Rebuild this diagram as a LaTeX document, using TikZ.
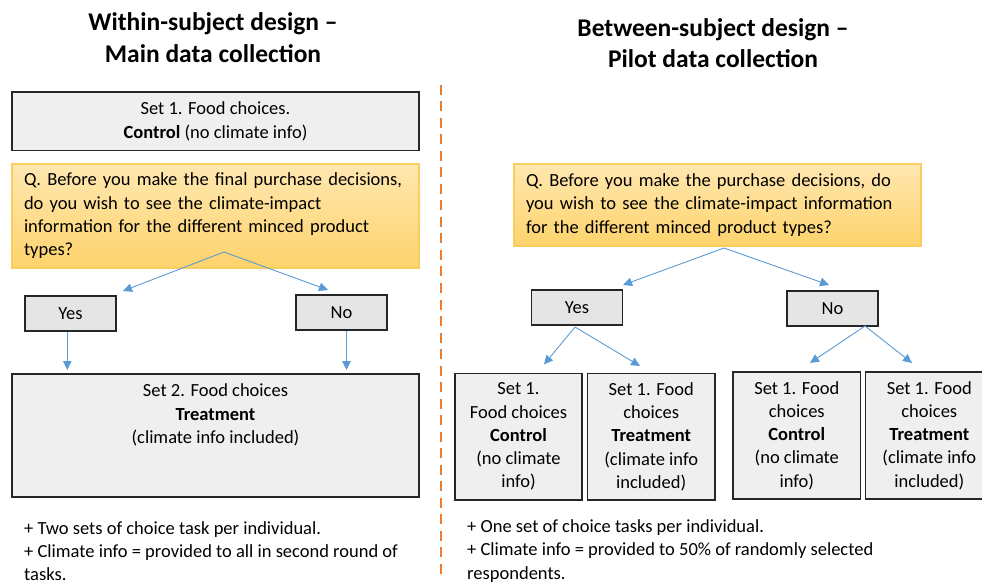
\documentclass[tikz,border=0pt]{standalone}
\usepackage{fontspec}
\setmainfont{Carlito}
\usetikzlibrary{arrows.meta}

\definecolor{boxgray}{HTML}{EFEFEF}
\definecolor{btngray}{HTML}{E5E5E5}
\definecolor{edge}{HTML}{262626}
\definecolor{qtop}{HTML}{FFE7B0}
\definecolor{qbot}{HTML}{FDD36C}
\definecolor{qedge}{HTML}{F9CD5E}
\definecolor{flow}{HTML}{5B9BD5}
\definecolor{divider}{HTML}{ED7D31}

\begin{document}
\begin{tikzpicture}[x=1pt, y=-1pt,
  txt/.style={font=\fontsize{18.5}{23.3}\selectfont},
  head/.style={font=\fontsize{25.5}{31.6}\selectfont\bfseries, align=center, inner sep=0},
  grayrect/.style={draw=edge, line width=1.6pt, fill=boxgray, inner sep=0, align=center, txt},
  btn/.style={draw=edge, line width=1.6pt, fill=btngray, inner sep=0, txt,
    minimum width=91, minimum height=35.5},
  qbox/.style={draw=qedge, line width=1.2pt, top color=qtop, bottom color=qbot,
    inner xsep=12, inner ysep=0, align=left, txt},
  cell/.style={grayrect, minimum width=127.5, minimum height=126.5},
  note/.style={align=left, inner sep=0, anchor=west, txt},
  flowarrow/.style={draw=flow, line width=0.9pt, -{Triangle[length=9pt, width=8.5pt]}},
]
\useasboundingbox (0,0) rectangle (982,585);
\clip (0,0) rectangle (982,585);

% column headings
\node[head] (headL) at (213,37.5) {Within-subject design –\\Main data collection};
\node[head] (headR) at (713,43) {Between-subject design –\\Pilot data collection};

% separator between the two designs
\coordinate (sepTop) at (440.5,85);
\coordinate (sepBot) at (440.5,580);
\draw[divider, line width=2pt, dash pattern=on 10pt off 6.5pt] (sepTop) -- (sepBot);

% ---------------- within-subject design ----------------
\node[grayrect, minimum width=407, minimum height=58.5] (set1L) at (215.5,121.25)
  {Set 1. Food choices.\\\textbf{Control} (no climate info)};

\node[qbox, minimum width=407, minimum height=104, text width=383] (qL) at (215.5,216)
  {Q. Before you make the final purchase decisions,\\do you wish to see the climate-impact\\information for the different minced product\\types?};

\node[btn] (yesL) at (70.5,313.5) {Yes};
\node[btn] (noL) at (341.5,312.5) {No};

\node[grayrect, minimum width=407, minimum height=123] (set2L) at (215.5,435.5) {};
\node[txt, align=center, inner sep=0] (set2Ltext) at (215.5,415)
  {Set 2. Food choices\\\textbf{Treatment}\\(climate info included)};

\coordinate (qLa) at (224,252);
\coordinate (qLyes) at (123,291);
\coordinate (qLno) at (328,290);
\draw[flowarrow] (qLa) -- (qLyes);
\draw[flowarrow] (qLa) -- (qLno);

\coordinate (yesLd) at (67.3,331.5);
\coordinate (yesLe) at (67.3,370);
\coordinate (noLd) at (346.5,330.5);
\coordinate (noLe) at (346.5,370);
\draw[flowarrow] (yesLd) -- (yesLe);
\draw[flowarrow] (noLd) -- (noLe);

\node[note] (noteL) at (24,551)
  {+ Two sets of choice task per individual.\\+ Climate info = provided to all in second round of\\tasks.};

% ---------------- between-subject design ----------------
\node[qbox, minimum width=407, minimum height=82, text width=383] (qR) at (717.5,205)
  {Q. Before you make the purchase decisions, do\\you wish to see the climate-impact information\\for the different minced product types?};

\node[btn] (yesR) at (577,307.5) {Yes};
\node[btn] (noR) at (832.5,308.5) {No};

\node[cell] (c1) at (518.5,436.6) {Set 1.\\Food choices\\\textbf{Control}\\(no climate\\info)};
\node[cell] (c2) at (651.2,436.6) {Set 1. Food\\choices\\\textbf{Treatment}\\(climate info\\included)};
\node[cell] (c3) at (796.8,435.5) {Set 1. Food\\choices\\\textbf{Control}\\(no climate\\info)};
\node[cell] (c4) at (929.3,435.5) {Set 1. Food\\choices\\\textbf{Treatment}\\(climate info\\included)};

\coordinate (qRa) at (724,248);
\coordinate (qRyes) at (623,285);
\coordinate (qRno) at (829,285);
\draw[flowarrow] (qRa) -- (qRyes);
\draw[flowarrow] (qRa) -- (qRno);

\coordinate (yesRa) at (575,327);
\coordinate (yesRc) at (544,364.5);
\coordinate (yesRt) at (640,366);
\draw[flowarrow] (yesRa) -- (yesRc);
\draw[flowarrow] (yesRa) -- (yesRt);

\coordinate (noRa) at (865,326);
\coordinate (noRc) at (810,363);
\coordinate (noRt) at (912,363);
\draw[flowarrow] (noRa) -- (noRc);
\draw[flowarrow] (noRa) -- (noRt);

\node[note] (noteR) at (467,551)
  {+ One set of choice tasks per individual.\\+ Climate info = provided to 50\% of randomly selected\\respondents.};
\end{tikzpicture}
\end{document}
